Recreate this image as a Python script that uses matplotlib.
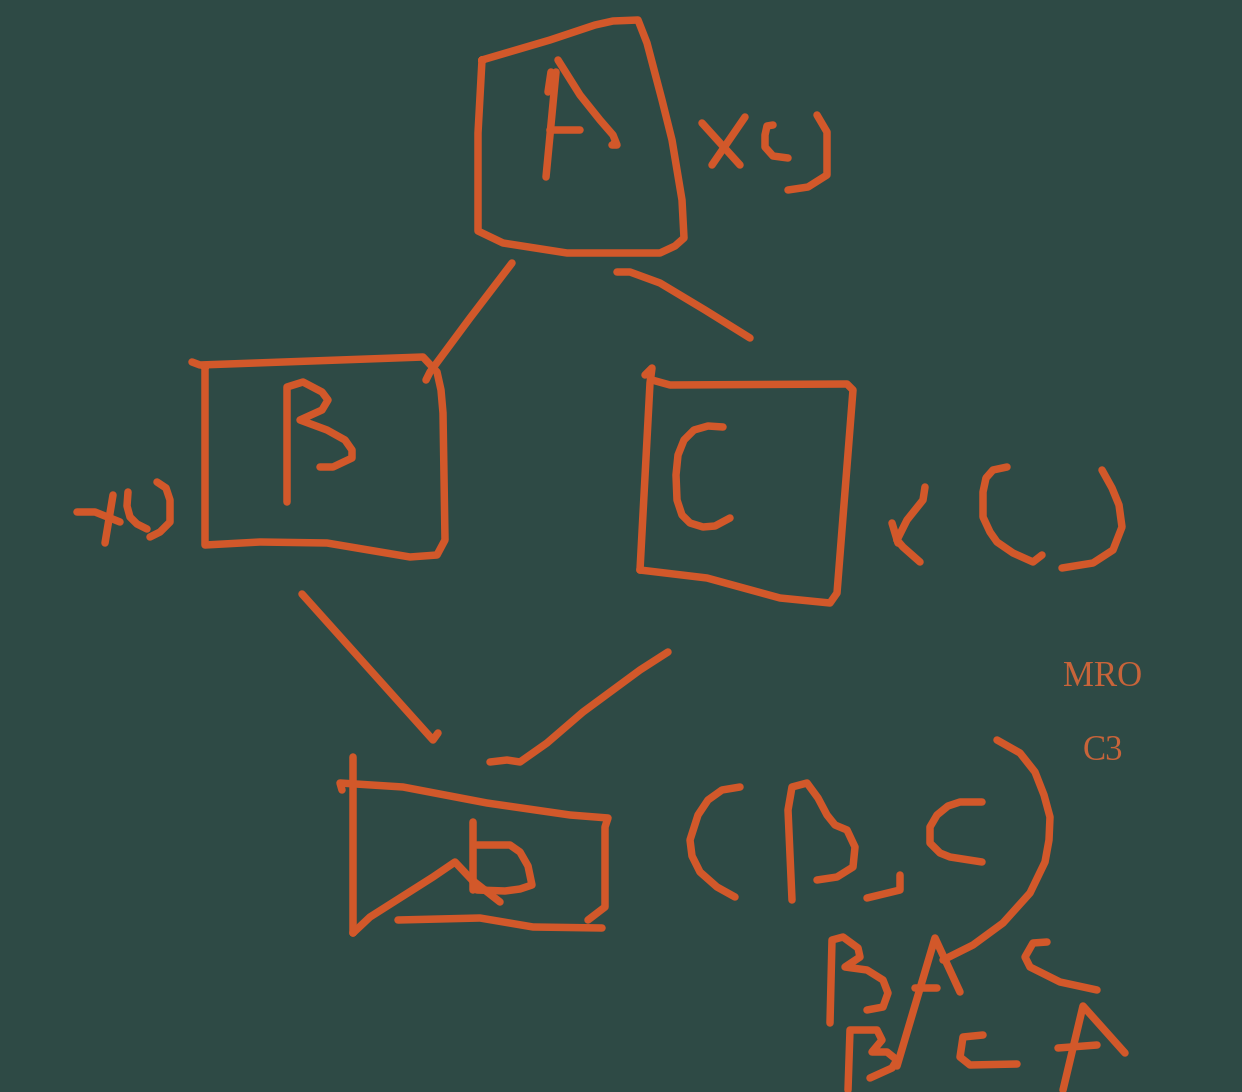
import matplotlib
matplotlib.use("Agg")
import matplotlib.pyplot as plt

# whiteboard strokes (x, y in pixels, y goes down)
box_a = [[(482, 60), (550, 40), (595, 25), (613, 21), (638, 20), (647, 43), (662, 100),
          (672, 140), (682, 200), (684, 238), (675, 246), (660, 253), (567, 253),
          (503, 243), (478, 231), (478, 133), (482, 60)]]
letter_a = [[(546, 177), (556, 72)], [(548, 92), (551, 72)],
            [(558, 60), (580, 95), (600, 120), (613, 135), (617, 145), (612, 145)],
            [(550, 130), (580, 130)]]
xy_a = [[(702, 123), (740, 165)], [(745, 117), (712, 165)],
        [(773, 125), (767, 126), (765, 135), (765, 147), (773, 156), (788, 158)],
        [(817, 115), (827, 132), (827, 175), (808, 187), (788, 190)]]

box_b = [[(192, 362), (200, 365), (423, 357), (437, 372), (441, 390), (443, 413),
          (445, 540), (437, 555), (410, 557), (327, 543), (260, 542), (205, 545), (205, 367)]]
letter_b = [[(287, 502), (287, 387), (303, 382), (322, 392), (328, 400), (322, 410),
             (300, 420), (327, 430), (345, 440), (352, 450), (352, 458), (333, 467), (320, 467)]]
xy_b = [[(77, 512), (95, 512), (120, 522)], [(113, 495), (105, 543)],
        [(128, 492), (127, 506), (130, 517), (137, 524), (147, 529)],
        [(157, 482), (166, 488), (170, 500), (170, 522), (160, 532), (150, 537)]]

box_c = [[(645, 375), (652, 368), (650, 383), (640, 570)],
         [(652, 380), (670, 385), (847, 384), (853, 390), (837, 593), (830, 603),
          (780, 598), (707, 578), (640, 570)]]
letter_c = [[(723, 427), (708, 426), (694, 430), (684, 440), (678, 455), (676, 475),
             (677, 500), (682, 515), (690, 523), (703, 527), (715, 526), (730, 518)]]
xy_c = [[(925, 487), (923, 500), (907, 520), (897, 540), (903, 547), (920, 562)],
        [(892, 523), (898, 543)],
        [(1007, 467), (993, 470), (986, 478), (983, 492), (983, 517), (990, 532),
         (997, 542), (1013, 553), (1033, 562), (1042, 555)],
        [(1102, 470), (1112, 488), (1119, 505), (1122, 527), (1113, 550), (1093, 563),
         (1062, 568)]]

box_d = [[(353, 757), (353, 933)],
         [(342, 790), (340, 783), (403, 787), (487, 803), (570, 815), (608, 818),
          (605, 827), (605, 907), (588, 920)],
         [(398, 920), (480, 918), (533, 927), (602, 928)],
         [(353, 933), (370, 917), (433, 877), (455, 862), (472, 880), (500, 902)]]
letter_d = [[(473, 822), (473, 890)],
            [(477, 845), (510, 845), (520, 852), (528, 866), (532, 885), (520, 889),
             (505, 891), (477, 890)]]

edges = [[(512, 263), (470, 318), (430, 372), (426, 380)],
         [(617, 272), (630, 272), (660, 283), (705, 310), (750, 338)],
         [(302, 594), (433, 740), (438, 733)],
         [(668, 652), (640, 670), (583, 712), (547, 743), (520, 762), (507, 760), (490, 762)]]

bc_tuple = [[(740, 787), (722, 790), (708, 800), (698, 815), (690, 840), (692, 856),
             (700, 872), (717, 887), (735, 897)],
            [(792, 900), (788, 810), (792, 787), (807, 783), (818, 798), (827, 815),
             (835, 825), (847, 830), (855, 847), (853, 867), (837, 877), (817, 880)],
            [(867, 898), (900, 890), (900, 875)],
            [(982, 802), (960, 802), (948, 806), (937, 815), (930, 827), (930, 843),
             (940, 853), (950, 857), (982, 862)],
            [(997, 740), (1020, 753), (1035, 772), (1044, 795), (1050, 817), (1049, 840),
             (1045, 862), (1030, 893), (1003, 923), (973, 945), (943, 960)]]

mro_row1 = [[(830, 1023), (832, 940), (843, 937), (858, 948), (860, 957), (845, 967),
             (867, 970), (883, 980), (888, 993), (883, 1007), (867, 1010)],
            [(897, 1066), (935, 938), (960, 992)],
            [(915, 988), (937, 988)],
            [(1047, 942), (1033, 943), (1025, 957), (1030, 967), (1060, 982), (1097, 990)]]
mro_row2 = [[(848, 1090), (850, 1030), (877, 1030), (882, 1040), (872, 1052), (887, 1052),
             (897, 1060), (892, 1068), (870, 1078)],
            [(983, 1035), (963, 1037), (960, 1057), (970, 1065), (1017, 1064)],
            [(1063, 1090), (1083, 1006), (1100, 1025), (1125, 1053)],
            [(1058, 1048), (1097, 1045)]]

labels = ["MRO", "C3"]
label_pos = [(1103, 677), (1103, 752)]

bg = "#2e4a45"
ink = "#d2582a"

fig = plt.figure(figsize=(12.42, 10.92), dpi=100)
fig.patch.set_facecolor(bg)
ax = fig.add_axes([0, 0, 1, 1])
ax.set_facecolor(bg)
ax.set_xlim(0, 1242)
ax.set_ylim(1092, 0)
ax.axis("off")

groups = [box_a, letter_a, xy_a, box_b, letter_b, xy_b, box_c, letter_c, xy_c,
          box_d, letter_d, edges, bc_tuple, mro_row1, mro_row2]
for group in groups:
    for stroke in group:
        xs = [p[0] for p in stroke]
        ys = [p[1] for p in stroke]
        ax.plot(xs, ys, color=ink, lw=5.4, solid_capstyle="round", solid_joinstyle="round")

for txt, (x, y) in zip(labels, label_pos):
    ax.text(x, y, txt, color="#c8643a", fontsize=25, family="Liberation Serif",
            ha="center", va="center")

fig.savefig("out.png", dpi=100, facecolor=bg)
